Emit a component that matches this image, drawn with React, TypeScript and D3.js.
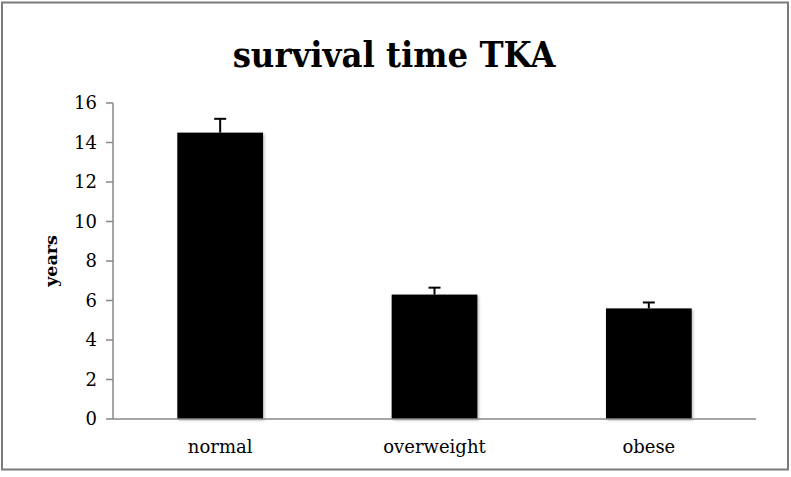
import React from 'react';
import * as d3 from 'd3';

const categories = ['normal', 'overweight', 'obese'];
const values = [14.5, 6.3, 5.6];
const errors = [0.7, 0.35, 0.3];
const yTicks = [0, 2, 4, 6, 8, 10, 12, 14, 16];

const W = 791;
const H = 477;
const margin = { top: 103, right: 35, bottom: 58, left: 113 };

const serif = '"DejaVu Serif", "Liberation Serif", serif';

export default function App() {
  const x = d3.scaleBand<string>()
    .domain(categories)
    .range([margin.left, W - margin.right])
    .paddingInner(0.6)
    .paddingOuter(0.3);

  const y = d3.scaleLinear()
    .domain([0, 16])
    .range([H - margin.bottom, margin.top]);

  const axisColor = '#878787';
  const y0 = y(0);

  return (
    <svg width={W} height={H} style={{ position: 'absolute', left: 0, top: 0, background: '#fff' }}>
      <defs>
        <filter id="shadow" x="-10%" y="-10%" width="130%" height="130%">
          <feDropShadow dx="1.5" dy="1.5" stdDeviation="1.2" floodColor="#000" floodOpacity="0.25" />
        </filter>
      </defs>
      {/* outer frame */}
      <rect x={2} y={2.5} width={786} height={467} fill="none" stroke="#7a7a7a" strokeWidth={2} />

      {/* title */}
      <text x={394} y={67} textAnchor="middle" fontFamily={serif} fontWeight="bold" fontStretch="condensed" fontSize={36}>
        survival time TKA
      </text>

      {/* y axis */}
      <line x1={margin.left} x2={margin.left} y1={y(16)} y2={y0} stroke={axisColor} strokeWidth={1.5} />
      {yTicks.map(t => (
        <g key={t}>
          <line x1={margin.left - 7} x2={margin.left} y1={y(t)} y2={y(t)} stroke={axisColor} strokeWidth={1.5} />
          <text x={margin.left - 16} y={y(t)} dy="0.36em" textAnchor="end" fontFamily={serif} fontSize={18}>
            {t}
          </text>
        </g>
      ))}
      <text
        transform={`translate(51,${(y(0) + y(16)) / 2}) rotate(-90)`}
        textAnchor="middle"
        dy="0.35em"
        fontFamily={serif}
        fontWeight="bold"
        fontSize={17.5}
      >
        years
      </text>

      {/* bars */}
      {categories.map((c, i) => {
        const bx = x(c)!;
        const bw = x.bandwidth();
        const cx = bx + bw / 2;
        const top = y(values[i]);
        const eTop = y(values[i] + errors[i]);
        return (
          <g key={c}>
            <rect x={bx} y={top} width={bw} height={y0 - top} fill="#000" filter="url(#shadow)" />
            <line x1={cx} x2={cx} y1={top} y2={eTop} stroke="#000" strokeWidth={2} />
            <line x1={cx - 6} x2={cx + 6} y1={eTop} y2={eTop} stroke="#000" strokeWidth={2} />
          </g>
        );
      })}

      {/* x axis */}
      <line x1={margin.left} x2={W - margin.right} y1={y0} y2={y0} stroke={axisColor} strokeWidth={1.5} />
      {categories.map(c => (
        <text key={c} x={x(c)! + x.bandwidth() / 2} y={y0 + 34} textAnchor="middle" fontFamily={serif} fontSize={18}>
          {c}
        </text>
      ))}
    </svg>
  );
}
